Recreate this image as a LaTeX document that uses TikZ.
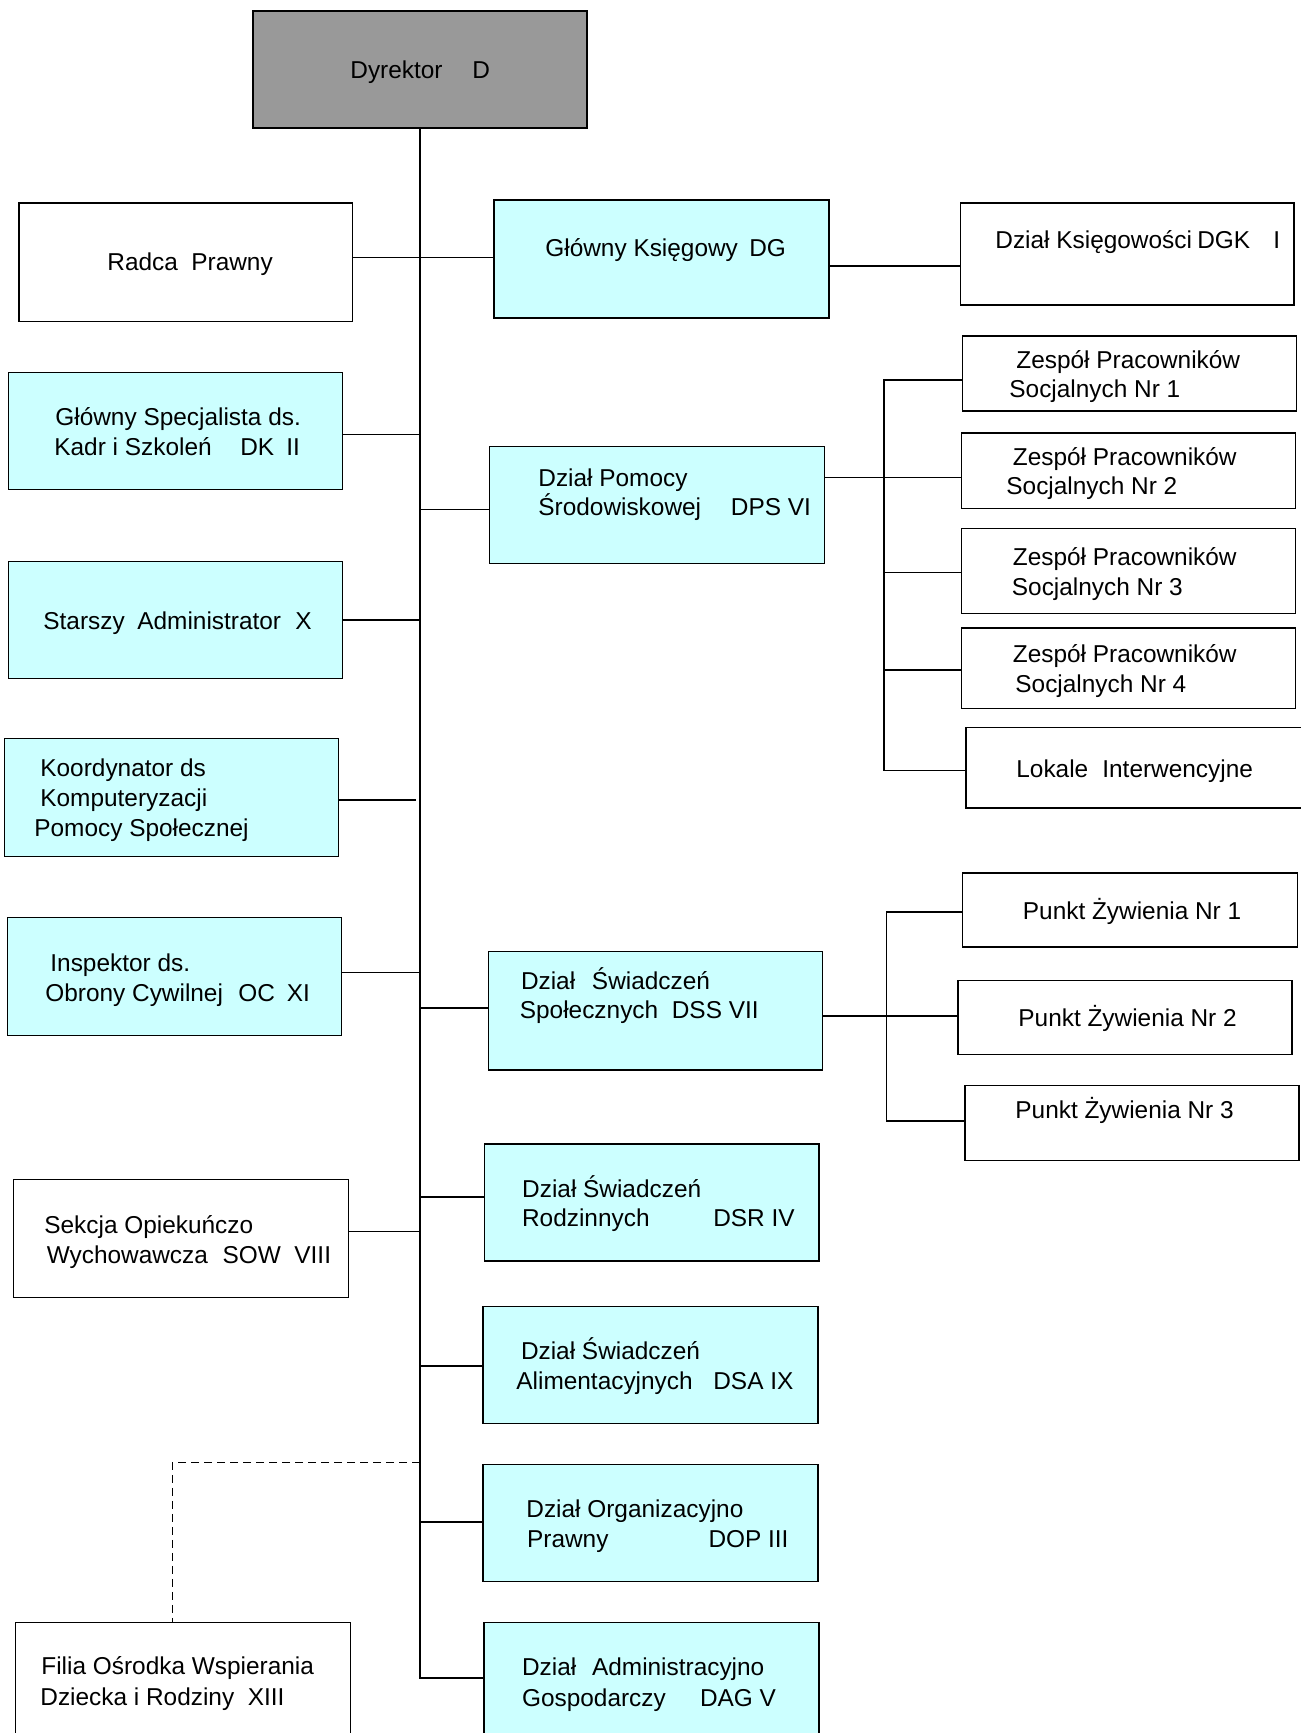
\documentclass[tikz,border=0pt]{standalone}
\usepackage{fontspec}
\setmainfont{Liberation Sans}
\usetikzlibrary{fit}
\definecolor{boxcyan}{HTML}{CCFFFF}
\definecolor{dirgray}{HTML}{999999}
\newcommand\padto[2]{\makebox[#1][l]{#2}}
\begin{document}
\begin{tikzpicture}[x=0.5pt,y=-0.5pt,
  box/.style={draw=black, line width=0.6pt, inner sep=0pt, fill=white},
  cbox/.style={box, fill=boxcyan},
  lbl/.style={anchor=base west, inner sep=0pt, font=\fontsize{12.2}{14}\selectfont},
  conn/.style={line width=0.6pt},
  dconn/.style={conn, dash pattern=on 4pt off 2.5pt}]
\useasboundingbox (0,0) rectangle (1300,1733);

% ---------- boxes ----------
\node[box, fill=dirgray, fit={(253,11) (587,128)}] (dyr) {};
\node[box, fit={(19,203) (352.6,321.7)}] (radca) {};
\node[cbox, fit={(494,200) (829,318)}] (gk) {};
\node[box, fit={(960.6,203) (1294,305)}] (dgk) {};
\node[cbox, fit={(8.8,372.5) (342.7,489.7)}] (gs) {};
\node[cbox, fit={(489.7,446.6) (824.6,563.8)}] (dps) {};
\node[box, fit={(962.8,336) (1296.6,411)}] (z1) {};
\node[box, fit={(961.7,433) (1295.5,508.5)}] (z2) {};
\node[box, fit={(961.7,528.4) (1295.5,613.5)}] (z3) {};
\node[box, fit={(961.7,627.9) (1295.5,708.6)}] (z4) {};
\node[box, fit={(966,727.4) (1303,808)}] (lok) {};
\node[cbox, fit={(8.8,561.5) (342.7,678.7)}] (sa) {};
\node[cbox, fit={(4.4,738.4) (338.3,856.7)}] (koord) {};
\node[cbox, fit={(7.7,917.5) (341.6,1035.8)}] (insp) {};
\node[cbox, fit={(488.6,951.7) (822.4,1070)}] (dss) {};
\node[box, fit={(962.8,873) (1297.7,947)}] (p1) {};
\node[box, fit={(958,980.5) (1292,1054.5)}] (p2) {};
\node[box, fit={(965,1085.5) (1299,1160.7)}] (p3) {};
\node[cbox, fit={(484.2,1144) (819,1261)}] (dsr) {};
\node[box, fit={(13.3,1179.5) (348.2,1297.7)}] (sow) {};
\node[cbox, fit={(483,1306.6) (818,1423.8)}] (dsa) {};
\node[cbox, fit={(483,1464.6) (818,1581.8)}] (dop) {};
\node[cbox, fit={(484,1622.7) (819,1750)}] (dag) {};
\node[box, fit={(15.5,1622.7) (350.4,1750)}] (filia) {};

% ---------- connectors ----------
\coordinate (mainend) at (420,1678);
\draw[conn] (dyr.south) -- (dyr.south |- mainend) -- (dag.west |- mainend);
\draw[conn] (radca.east |- 0,257.6) -- (gk.west |- 0,257.6);
\draw[conn] (gk.east |- 0,266) -- (dgk.west |- 0,266);
\draw[conn] (gs.east |- 0,434.5) -- (mainend |- 0,434.5);
\draw[conn] (mainend |- 0,509.6) -- (dps.west |- 0,509.6);
\draw[conn] (sa.east |- 0,620) -- (mainend |- 0,620);
\draw[conn] (koord.east |- 0,800) -- (415.6,800);
\draw[conn] (insp.east |- 0,972.8) -- (mainend |- 0,972.8);
\draw[conn] (mainend |- 0,1008) -- (dss.west |- 0,1008);
\draw[conn] (mainend |- 0,1197) -- (dsr.west |- 0,1197);
\draw[conn] (sow.east |- 0,1231.4) -- (mainend |- 0,1231.4);
\draw[conn] (mainend |- 0,1366) -- (dsa.west |- 0,1366);
\draw[conn] (mainend |- 0,1522) -- (dop.west |- 0,1522);
\draw[dconn] (mainend |- 0,1462.4) -- (172.4,1462.4) -- (filia.north -| 172.4,0);

% DPS bus
\draw[conn] (dps.east |- 0,477.5) -- (z2.west |- 0,477.5);
\draw[conn] (z1.west |- 0,380) -- (884,380) -- (884,770.5) -- (lok.west |- 0,770.5);
\draw[conn] (884,572.6) -- (z3.west |- 0,572.6);
\draw[conn] (884,669.9) -- (z4.west |- 0,669.9);

% DSS bus
\draw[conn] (dss.east |- 0,1016) -- (p2.west |- 0,1016);
\draw[conn] (p1.west |- 0,912) -- (886.5,912) -- (886.5,1121) -- (p3.west |- 0,1121);

% ---------- texts ----------
\node[lbl] (tdyr) at (350,79) {\padto{61pt}{Dyrektor}D};
\node[lbl] (tradca) at (107,271) {\padto{42pt}{Radca}Prawny};
\node[lbl] (tgk) at (545,257) {\padto{102pt}{Główny Księgowy}DG};
\node[lbl] (tdgk) at (995,249) {\padto{139pt}{\padto{101pt}{Dział Księgowości}DGK}I};
\node[lbl] (tgs1) at (55,425) {Główny Specjalista ds.};
\node[lbl] (tgs2) at (54,455) {\padto{116pt}{\padto{93pt}{Kadr i Szkoleń}DK}II};
\node[lbl] (tsa) at (43,629) {\padto{126pt}{\padto{47pt}{Starszy}Administrator}X};
\node[lbl] (tko1) at (40,776) {Koordynator ds};
\node[lbl] (tko2) at (40,806) {Komputeryzacji};
\node[lbl] (tko3) at (34,836) {Pomocy Społecznej};
\node[lbl] (tin1) at (50,971) {Inspektor ds.};
\node[lbl] (tin2) at (45,1001) {\padto{120.8pt}{\padto{96.5pt}{Obrony Cywilnej}OC}XI};
\node[lbl] (tso1) at (44,1233) {Sekcja Opiekuńczo};
\node[lbl] (tso2) at (46.4,1263) {\padto{87.9pt}{Wychowawcza}SOW\ \ VIII};
\node[lbl] (tfi1) at (41,1674) {Filia Ośrodka Wspierania};
\node[lbl] (tfi2) at (40,1705) {Dziecka i Rodziny\ \ XIII};
\node[lbl] (tdps1) at (538,486) {Dział Pomocy};
\node[lbl] (tdps2) at (538,515) {\padto{96.3pt}{Środowiskowej}DPS VI};
\node[lbl] (tdss1) at (520.6,989) {\padto{35.5pt}{Dział}Świadczeń};
\node[lbl] (tdss2) at (519.5,1018) {\padto{76pt}{Społecznych}DSS VII};
\node[lbl] (tdsr1) at (521.8,1197) {Dział Świadczeń};
\node[lbl] (tdsr2) at (521.7,1226) {\padto{95.6pt}{Rodzinnych}DSR\ IV};
\node[lbl] (tdsa1) at (520.6,1359) {Dział Świadczeń};
\node[lbl] (tdsa2) at (516,1389) {\padto{98.5pt}{Alimentacyjnych}DSA IX};
\node[lbl] (tdop1) at (526,1517) {Dział Organizacyjno};
\node[lbl] (tdop2) at (526.7,1547) {\padto{90.7pt}{Prawny}DOP III};
\node[lbl] (tdag1) at (521.7,1675) {\padto{35pt}{Dział}Administracyjno};
\node[lbl] (tdag2) at (521.7,1706) {\padto{89pt}{Gospodarczy}DAG\ V};
\node[lbl] (tz11) at (1016,368) {Zespół Pracowników};
\node[lbl] (tz12) at (1009,397) {Socjalnych Nr 1};
\node[lbl] (tz21) at (1012.5,465) {Zespół Pracowników};
\node[lbl] (tz22) at (1006,494) {Socjalnych Nr 2};
\node[lbl] (tz31) at (1012.5,565) {Zespół Pracowników};
\node[lbl] (tz32) at (1011.5,595) {Socjalnych Nr 3};
\node[lbl] (tz41) at (1012.5,662) {Zespół Pracowników};
\node[lbl] (tz42) at (1015,692) {Socjalnych Nr 4};
\node[lbl] (tlok) at (1016,777) {\padto{43pt}{Lokale}Interwencyjne};
\node[lbl] (tp1) at (1022.5,919) {Punkt Żywienia Nr 1};
\node[lbl] (tp2) at (1018,1026) {Punkt Żywienia Nr 2};
\node[lbl] (tp3) at (1015,1118) {Punkt Żywienia Nr 3};
\end{tikzpicture}
\end{document}
